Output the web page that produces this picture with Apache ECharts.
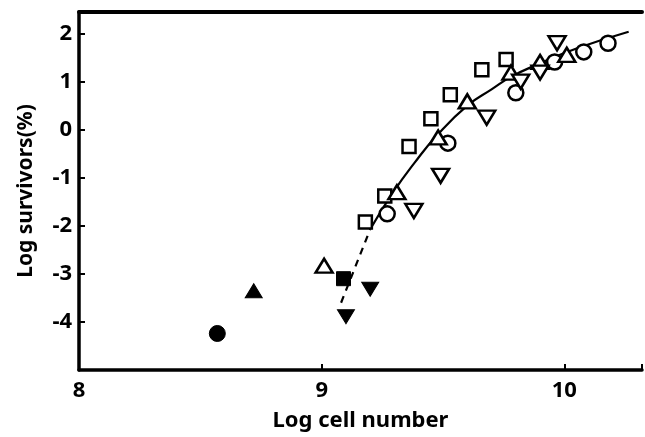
<!DOCTYPE html>
<html>
<head>
<meta charset="utf-8">
<script src="https://cdn.jsdelivr.net/npm/echarts@6/dist/echarts.min.js"></script>
<style>
  html, body { margin: 0; padding: 0; background: #fff; }
  #chart { width: 645px; height: 437px; }
</style>
</head>
<body>
<div id="chart"></div>
<script>
// Survival measurements: [log cell number, log survivors (%)]
const openSquares = [[9.18, -1.92], [9.26, -1.38], [9.36, -0.35], [9.45, 0.23], [9.53, 0.73], [9.66, 1.25], [9.76, 1.46]];
const openCircles = [[9.27, -1.75], [9.52, -0.28], [9.80, 0.77], [9.96, 1.41], [10.08, 1.62], [10.18, 1.80]];
const openTriangles = [[9.01, -2.83], [9.31, -1.30], [9.48, -0.16], [9.60, 0.59], [9.78, 1.19], [9.90, 1.41], [10.01, 1.56]];
const openDownTriangles = [[9.38, -1.69], [9.49, -0.96], [9.68, 0.25], [9.82, 1.00], [9.90, 1.19], [9.97, 1.80]];
const filledCircles = [[8.57, -4.24]];
const filledTriangles = [[8.72, -3.35]];
const filledSquares = [[9.09, -3.10]];
const filledDownTriangles = [[9.10, -3.89], [9.20, -3.32]];

// Fitted survival curve, solid part and its dashed extrapolation
const curveSolid = [[9.20, -2.07], [9.295, -1.30], [9.384, -0.68], [9.473, -0.13], [9.60, 0.50], [9.70, 0.84], [9.78, 1.10], [9.89, 1.36], [10.05, 1.69], [10.265, 2.04]];
const curveDashed = [[9.08, -3.60], [9.20, -2.07]];

const xTicks = [8, 9, 10];
const yTicks = [-4, -3, -2, -1, 0, 1, 2];

const FONT = 'Noto Sans';
const INK = '#000';

function markers(name, data, symbol, filled, rotate, size) {
  return {
    name, type: 'scatter', data, symbol,
    symbolSize: size,
    symbolRotate: rotate || 0,
    z: 5,
    itemStyle: filled
      ? { color: INK, borderColor: INK, borderWidth: 1, opacity: 1 }
      : { color: '#fff', borderColor: INK, borderWidth: 2.5, opacity: 1 }
  };
}

const chart = echarts.init(document.getElementById('chart'), null, { renderer: 'canvas' });
chart.setOption({
  animation: false,
  backgroundColor: '#fff',
  grid: { left: 79, right: 0, top: 12, bottom: 65 },
  xAxis: [{
    type: 'value', min: 8, max: 10.32, interval: 1,
    name: 'Log cell number', nameLocation: 'middle', nameGap: 40,
    nameTextStyle: { fontFamily: FONT, fontWeight: 'bold', fontSize: 22, color: INK },
    axisLine: { onZero: false, lineStyle: { color: INK, width: 3.5 } },
    axisTick: { inside: true, length: 6, lineStyle: { color: INK, width: 2 } },
    axisLabel: {
      margin: 10, fontFamily: FONT, fontWeight: 'bold', fontSize: 22, color: INK,
      formatter: v => xTicks.includes(v) ? String(v) : ''
    },
    splitLine: { show: false }
  }, {
    type: 'value', position: 'top', min: 8, max: 10.32,
    axisLine: { show: true, onZero: false, lineStyle: { color: INK, width: 4 } },
    axisTick: { show: false }, axisLabel: { show: false }, splitLine: { show: false }
  }],
  yAxis: {
    type: 'value', min: -5, max: 2.45, interval: 1,
    name: 'Log survivors(%)', nameLocation: 'middle', nameGap: 42,
    nameTextStyle: { fontFamily: FONT, fontWeight: 'bold', fontSize: 21, color: INK },
    axisLine: { show: true, onZero: false, lineStyle: { color: INK, width: 3.5 } },
    axisTick: { inside: true, length: 6, lineStyle: { color: INK, width: 2 } },
    axisLabel: {
      margin: 7, fontFamily: FONT, fontWeight: 'bold', fontSize: 22, color: INK,
      formatter: v => yTicks.includes(v) ? String(v) : ''
    },
    splitLine: { show: false }
  },
  series: [
    {
      name: 'fit', type: 'line', data: curveSolid, smooth: 0.5,
      showSymbol: false, lineStyle: { color: INK, width: 2.2 }, z: 3
    },
    {
      name: 'fit (extrapolated)', type: 'line', data: curveDashed, showSymbol: false,
      lineStyle: { color: INK, width: 2.2, type: [7, 6] }, z: 3
    },
    markers('open squares', openSquares, 'rect', false, 0, 13),
    markers('open circles', openCircles, 'circle', false, 0, 15),
    markers('open triangles', openTriangles, 'triangle', false, 0, [17, 14]),
    markers('open inverted triangles', openDownTriangles, 'triangle', false, 180, [17, 14]),
    markers('filled circles', filledCircles, 'circle', true, 0, 16),
    markers('filled triangles', filledTriangles, 'triangle', true, 0, [17, 14]),
    markers('filled squares', filledSquares, 'rect', true, 0, 14),
    markers('filled inverted triangles', filledDownTriangles, 'triangle', true, 180, [17, 14])
  ]
});
</script>
</body>
</html>
